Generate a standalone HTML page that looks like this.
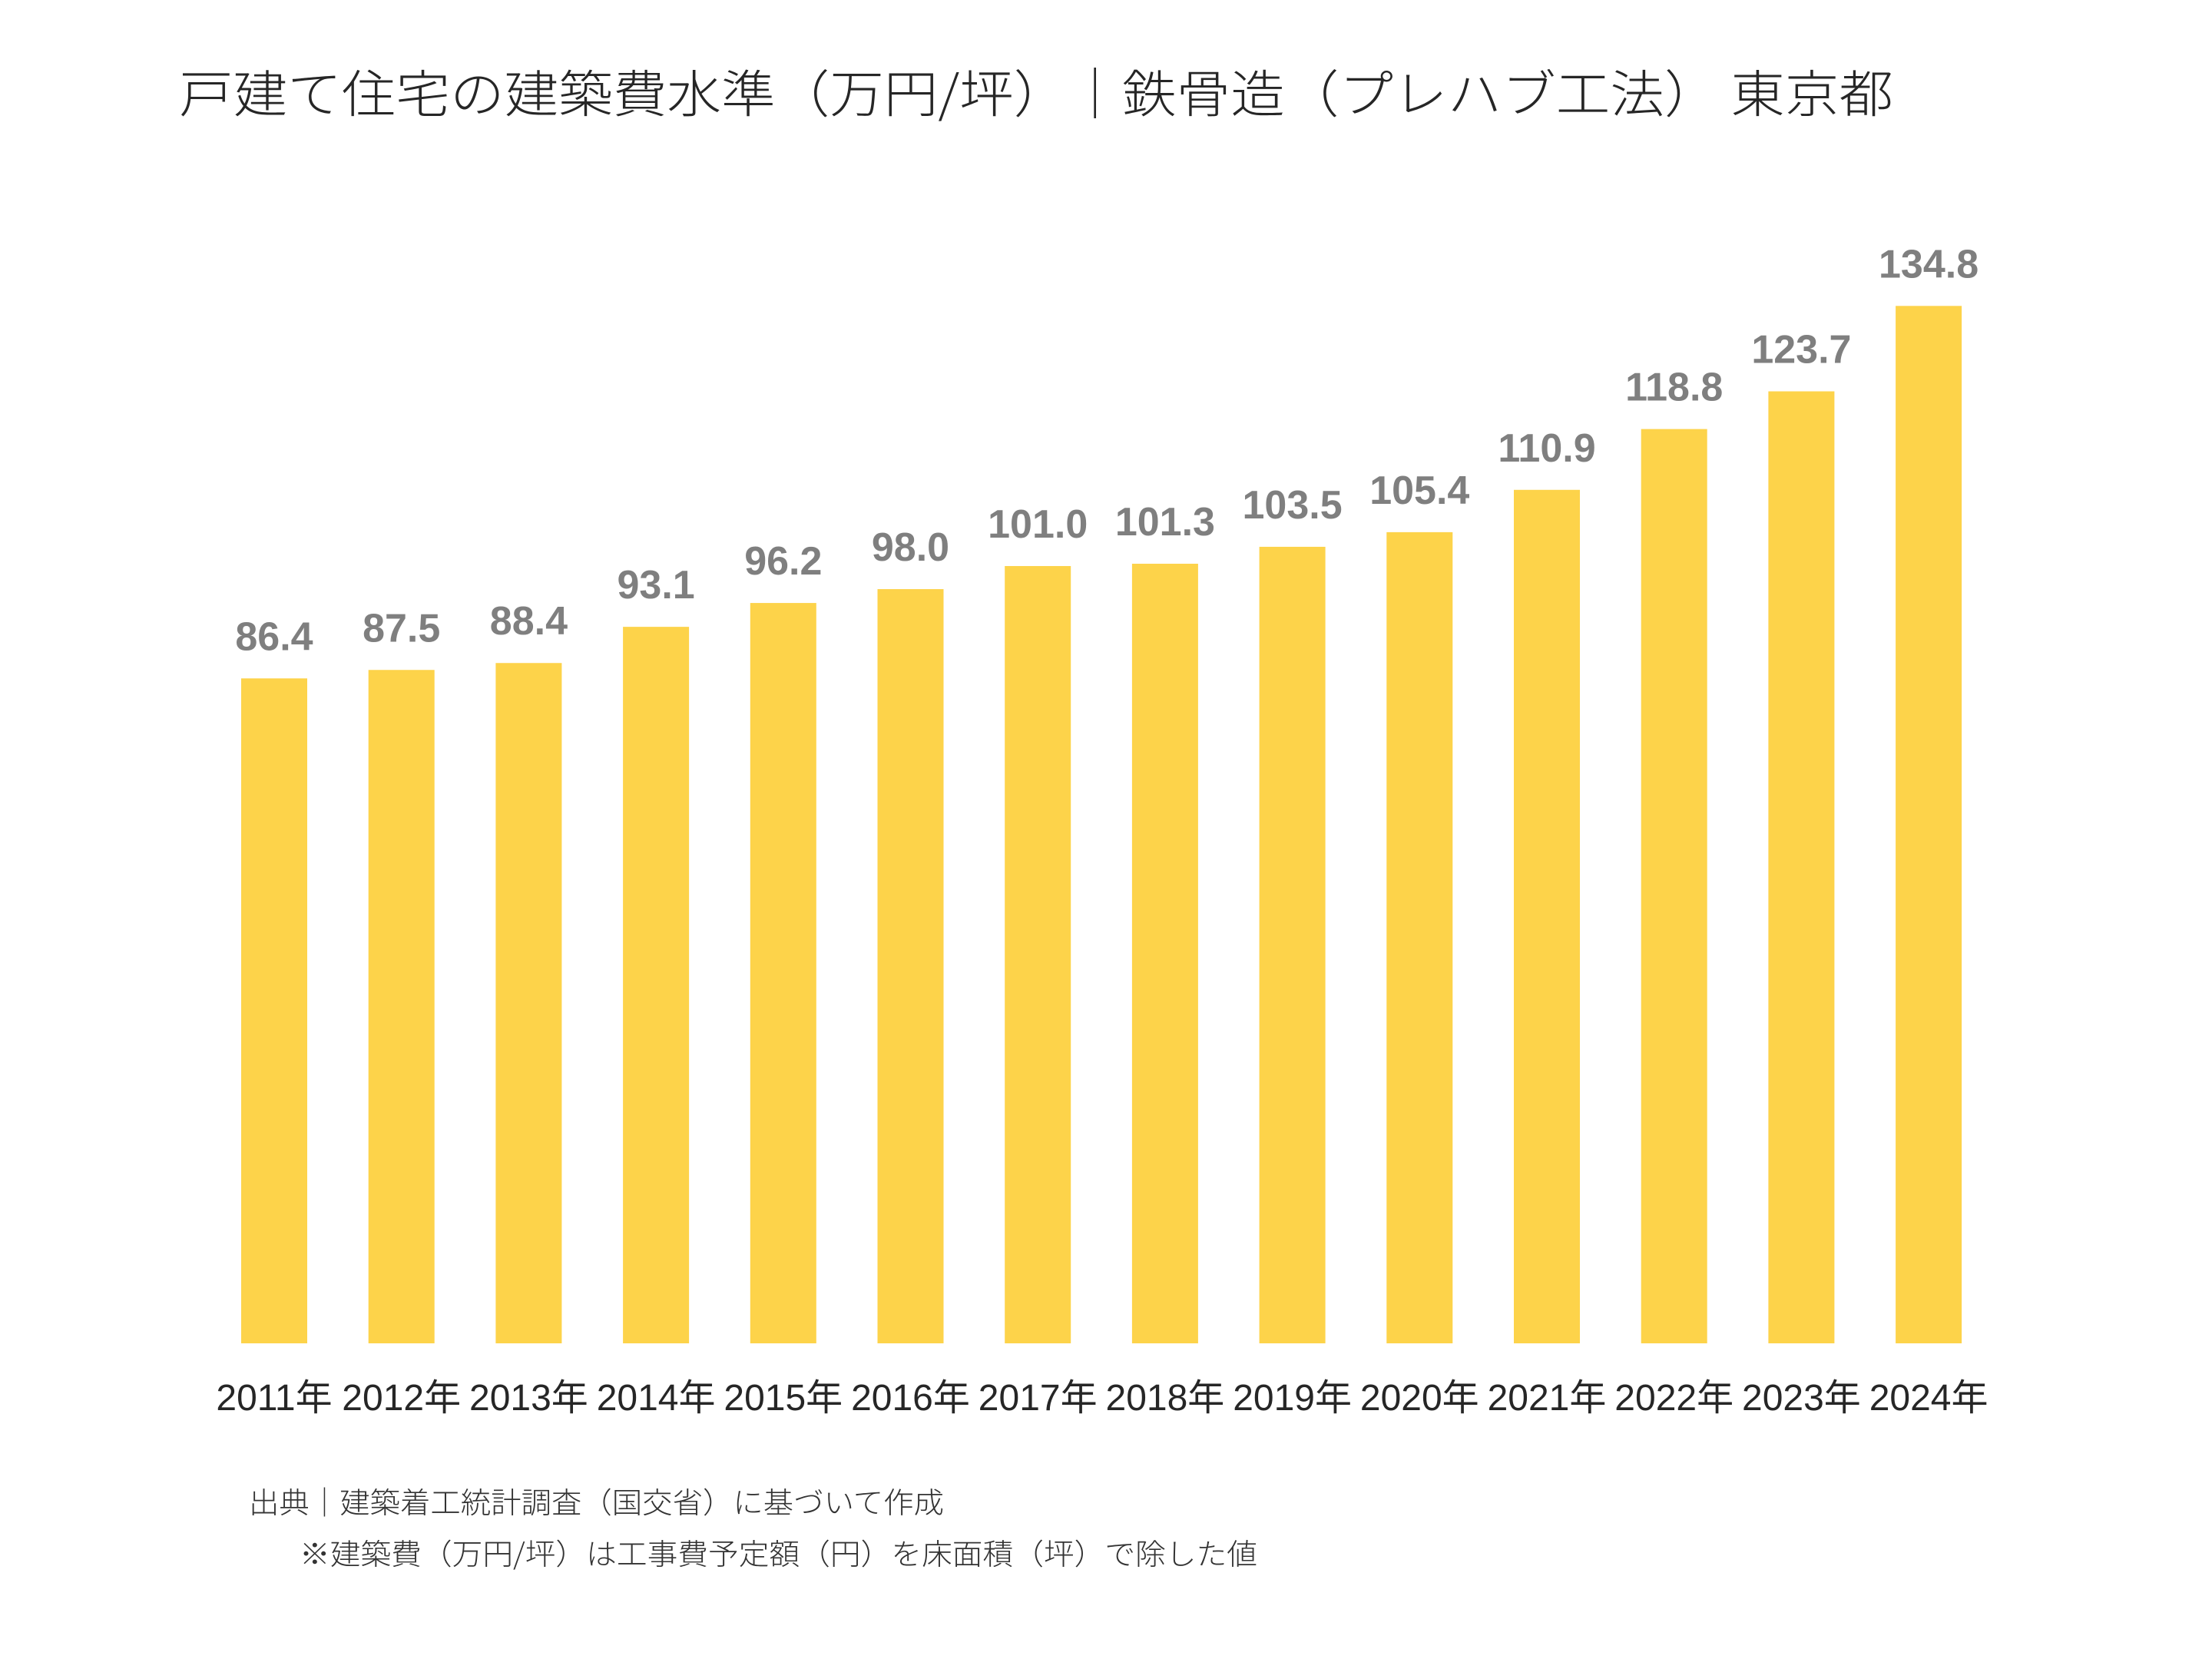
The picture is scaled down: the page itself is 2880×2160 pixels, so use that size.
<!DOCTYPE html>
<html><head><meta charset="utf-8"><style>
html,body{margin:0;padding:0;background:#fff;}
svg{display:block;}
</style></head><body>
<svg id="chart" width="2880" height="2160" viewBox="0 0 2880 2160" xmlns="http://www.w3.org/2000/svg">
<rect width="2880" height="2160" fill="#fff"/>
<text x="233" y="146" font-size="66" font-weight="300" fill="#262626" textLength="2232" lengthAdjust="spacingAndGlyphs" font-family="'Noto Sans CJK JP','Liberation Sans',sans-serif">戸建て住宅の建築費水準（万円/坪）｜鉄骨造（プレハブ工法） 東京都</text>
<g id="bars"></g>
<g id="vals"></g>
<g id="xlabels"></g>
<text x="324" y="1970" font-size="38" font-weight="300" fill="#333" textLength="905" lengthAdjust="spacingAndGlyphs" font-family="'Noto Sans CJK JP','Liberation Sans',sans-serif">出典｜建築着工統計調査（国交省）に基づいて作成</text>
<text x="390" y="2037" font-size="38" font-weight="300" fill="#333" textLength="1247" lengthAdjust="spacingAndGlyphs" font-family="'Noto Sans CJK JP','Liberation Sans',sans-serif">※建築費（万円/坪）は工事費予定額（円）を床面積（坪）で除した値</text>
</svg>
<script>
const categories = ["2011年","2012年","2013年","2014年","2015年","2016年","2017年","2018年","2019年","2020年","2021年","2022年","2023年","2024年"];
const values = [86.4,87.5,88.4,93.1,96.2,98.0,101.0,101.3,103.5,105.4,110.9,118.8,123.7,134.8];
const valueLabels = ["86.4","87.5","88.4","93.1","96.2","98.0","101.0","101.3","103.5","105.4","110.9","118.8","123.7","134.8"];

const NS = "http://www.w3.org/2000/svg";
const baseY = 1749, pxPerUnit = 10.02;
const firstCenter = 357, pitch = 165.7, barW = 86;
function xScale(i){ return firstCenter + i * pitch; }
function yScale(v){ return baseY - v * pxPerUnit; }

const gb = document.getElementById('bars');
const gv = document.getElementById('vals');
const gx = document.getElementById('xlabels');
categories.forEach((c, i) => {
  const cx = xScale(i), top = yScale(values[i]);
  const r = document.createElementNS(NS, 'rect');
  r.setAttribute('x', cx - barW/2);
  r.setAttribute('y', top);
  r.setAttribute('width', barW);
  r.setAttribute('height', baseY - top);
  r.setAttribute('fill', '#FDD34A');
  
  
  gb.appendChild(r);

  const t = document.createElementNS(NS, 'text');
  t.setAttribute('x', cx);
  t.setAttribute('y', top - 37);
  t.setAttribute('text-anchor', 'middle');
  t.setAttribute('font-size', '52');
  t.setAttribute('font-weight', 'bold');
  t.setAttribute('fill', '#7f7f7f');
  t.setAttribute('font-family', "'Liberation Sans',sans-serif");
  t.textContent = valueLabels[i];
  
  
  gv.appendChild(t);

  const l = document.createElementNS(NS, 'text');
  l.setAttribute('x', cx);
  l.setAttribute('y', 1836);
  l.setAttribute('text-anchor', 'middle');
  l.setAttribute('font-size', '48');
  l.setAttribute('fill', '#262626');
  l.setAttribute('font-family', "'Liberation Sans','Noto Sans CJK JP',sans-serif");
  l.textContent = c;
  
  
  gx.appendChild(l);
});
</script>
</body></html>
